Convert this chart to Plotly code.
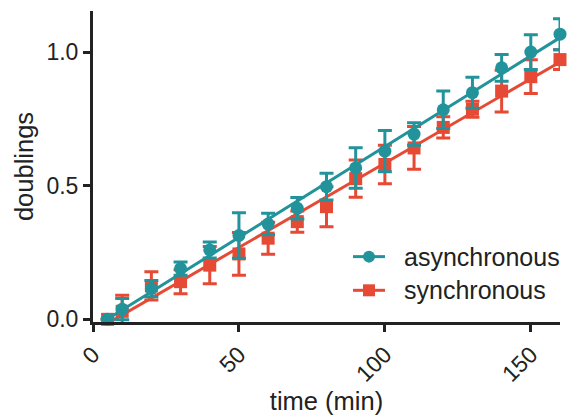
import numpy as np
import plotly.graph_objects as go

# time points (min)
time_min = [5, 10, 20, 30, 40, 50, 60, 70, 80, 90, 100, 110, 120, 130, 140, 150, 160]

# mean doublings and error (SD) per time point
async_mean = [0.0, 0.038, 0.115, 0.19, 0.26, 0.314, 0.357, 0.416, 0.497, 0.567, 0.630, 0.694, 0.785, 0.849, 0.942, 1.001, 1.068]
async_err = [0.0, 0.04, 0.03, 0.025, 0.03, 0.085, 0.04, 0.04, 0.05, 0.076, 0.077, 0.042, 0.07, 0.058, 0.05, 0.065, 0.058]

sync_mean = [0.0, 0.03, 0.125, 0.141, 0.203, 0.245, 0.304, 0.366, 0.422, 0.527, 0.580, 0.642, 0.719, 0.787, 0.855, 0.909, 0.973]
sync_err = [0.0, 0.06, 0.053, 0.045, 0.07, 0.08, 0.06, 0.04, 0.075, 0.07, 0.072, 0.08, 0.04, 0.03, 0.078, 0.063, 0.037]

series_names = ["asynchronous", "synchronous"]
TEAL = "#23939b"
RED = "#e64a35"
INK = "#222222"
FONT = "Liberation Sans, Arial, sans-serif"

W, H = 567, 418
M_L, M_R, M_T, M_B = 93, 7, 11, 93
PLOT_W = W - M_L - M_R
PLOT_H = H - M_T - M_B

fig = go.Figure()


def add_series(name, x, y, err, color, symbol):
    x = np.asarray(x, dtype=float)
    y = np.asarray(y, dtype=float)
    # linear fit through the means
    slope, intercept = np.polyfit(x, y, 1)
    xf = np.array([x.min(), x.max()])
    fig.add_trace(go.Scatter(
        x=xf, y=slope * xf + intercept, mode="lines",
        line=dict(color=color, width=3), showlegend=False,
        hoverinfo="skip", cliponaxis=False,
    ))
    fig.add_trace(go.Scatter(
        x=x, y=y, mode="markers", name=name, showlegend=False,
        marker=dict(color=color, size=13, symbol=symbol),
        error_y=dict(type="data", array=err, color=color, thickness=3, width=7),
        cliponaxis=False,
    ))


add_series(series_names[1], time_min, sync_mean, sync_err, RED, "square")
add_series(series_names[0], time_min, async_mean, async_err, TEAL, "circle")


# key drawn in paper coordinates so it never pushes the plot margins
def px_x(px):
    return (px - M_L) / PLOT_W


def px_y(py):
    return (M_T + PLOT_H - py) / PLOT_H


key_rows = [(series_names[0], TEAL, "circle", 259), (series_names[1], RED, "square", 293)]
for label, color, symbol, row_y in key_rows:
    yk = px_y(row_y)
    fig.add_shape(type="line", xref="paper", yref="paper",
                  x0=px_x(353), x1=px_x(385), y0=yk, y1=yk,
                  line=dict(color=color, width=3))
    fig.add_shape(type="circle" if symbol == "circle" else "rect",
                  xref="paper", yref="paper", xsizemode="pixel", ysizemode="pixel",
                  xanchor=px_x(369), yanchor=yk, x0=-6, x1=6, y0=-6, y1=6,
                  fillcolor=color, line=dict(width=0))
    fig.add_annotation(text=label, xref="paper", yref="paper",
                       x=px_x(402), y=yk, xanchor="left", yanchor="middle",
                       showarrow=False, font=dict(family=FONT, size=25, color=INK))

axis_common = dict(
    showgrid=False, zeroline=False, showline=True, linecolor=INK, linewidth=3,
    ticks="outside", ticklen=7, tickwidth=3, tickcolor=INK,
    tickfont=dict(family=FONT, size=23, color=INK),
)

fig.update_layout(
    width=W, height=H,
    margin=dict(l=M_L, r=M_R, t=M_T, b=M_B),
    paper_bgcolor="white", plot_bgcolor="white",
    font=dict(family=FONT, color=INK),
    showlegend=False,
    xaxis=dict(
        range=[0, 160], tickvals=[0, 50, 100, 150], tickangle=-45,
        title=dict(text="time (min)", font=dict(family=FONT, size=25.5, color=INK), standoff=6),
        **axis_common,
    ),
    yaxis=dict(
        range=[-0.01, 1.155], tickvals=[0.0, 0.5, 1.0], tickformat=".1f",
        title=dict(text="doublings", font=dict(family=FONT, size=25.5, color=INK), standoff=6),
        **axis_common,
    ),
)

fig.write_html("out.html")
